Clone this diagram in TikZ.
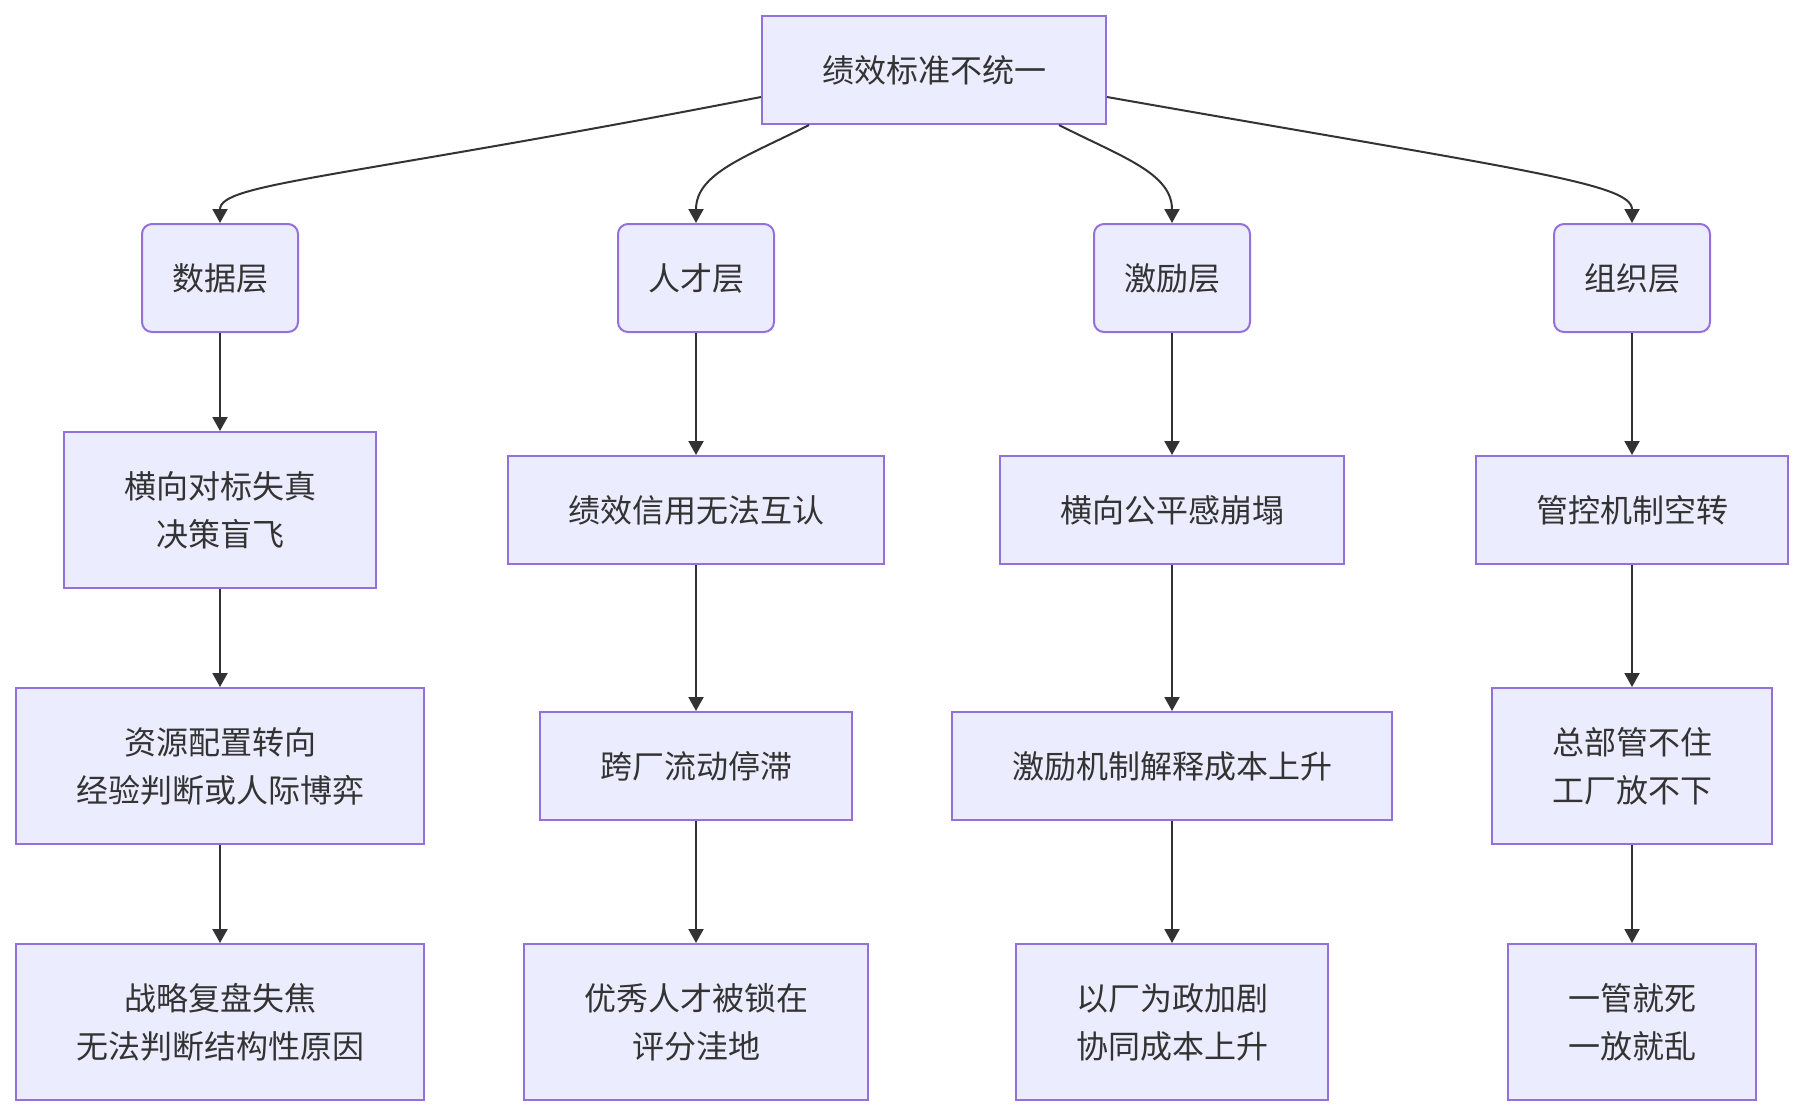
\documentclass[tikz,border=0pt]{standalone}
\usepackage{fontspec}
\setmainfont{Noto Sans CJK SC}
\usetikzlibrary{arrows.meta}
\definecolor{BoxClr}{HTML}{ECECFF}
\definecolor{FrameClr}{HTML}{9370DB}
\definecolor{TextClr}{HTML}{333333}
\definecolor{EdgeClr}{HTML}{333333}

\tikzset{
  box/.style={draw=FrameClr,fill=BoxClr,line width=1pt,text=TextClr,align=center,
    font=\fontsize{16pt}{24pt}\selectfont,inner xsep=30pt,inner ysep=0pt,minimum height=54pt},
  twoline/.style={minimum height=78pt},
  layer/.style={box,rounded corners=5pt,inner xsep=15pt},
  edge/.style={draw=EdgeClr,line width=1pt,-{Triangle[length=7pt,width=7.5pt]}}
}

\begin{document}
\begin{tikzpicture}[x=0.5pt,y=0.5pt]
\useasboundingbox (0,0) rectangle (1804,-1116);

\node[box] (top) at (934,-70) {绩效标准不统一};

\node[layer] (data) at (220,-278) {数据层};
\node[layer] (talent) at (696,-278) {人才层};
\node[layer] (incent) at (1172,-278) {激励层};
\node[layer] (org) at (1632,-278) {组织层};

\node[box,twoline] (d1) at (220,-510) {横向对标失真\\决策盲飞};
\node[box] (t1) at (696,-510) {绩效信用无法互认};
\node[box] (i1) at (1172,-510) {横向公平感崩塌};
\node[box] (o1) at (1632,-510) {管控机制空转};

\node[box,twoline] (d2) at (220,-766) {资源配置转向\\经验判断或人际博弈};
\node[box] (t2) at (696,-766) {跨厂流动停滞};
\node[box] (i2) at (1172,-766) {激励机制解释成本上升};
\node[box,twoline] (o2) at (1632,-766) {总部管不住\\工厂放不下};

\node[box,twoline] (d3) at (220,-1022) {战略复盘失焦\\无法判断结构性原因};
\node[box,twoline] (t3) at (696,-1022) {优秀人才被锁在\\评分洼地};
\node[box,twoline] (i3) at (1172,-1022) {以厂为政加剧\\协同成本上升};
\node[box,twoline] (o3) at (1632,-1022) {一管就死\\一放就乱};

\draw[edge] ([yshift=-13.5pt]top.west) to[out=191,in=90,out distance=215pt,in distance=20pt] (data);
\draw[edge] ([xshift=-62.5pt]top.south) to[out=207,in=90,out distance=35pt,in distance=25pt] (talent);
\draw[edge] ([xshift=62.5pt]top.south) to[out=333,in=90,out distance=35pt,in distance=25pt] (incent);
\draw[edge] ([yshift=-13.5pt]top.east) to[out=350,in=90,out distance=210pt,in distance=20pt] (org);

\draw[edge] (data) -- (d1);
\draw[edge] (d1) -- (d2);
\draw[edge] (d2) -- (d3);
\draw[edge] (talent) -- (t1);
\draw[edge] (t1) -- (t2);
\draw[edge] (t2) -- (t3);
\draw[edge] (incent) -- (i1);
\draw[edge] (i1) -- (i2);
\draw[edge] (i2) -- (i3);
\draw[edge] (org) -- (o1);
\draw[edge] (o1) -- (o2);
\draw[edge] (o2) -- (o3);

\end{tikzpicture}
\end{document}
